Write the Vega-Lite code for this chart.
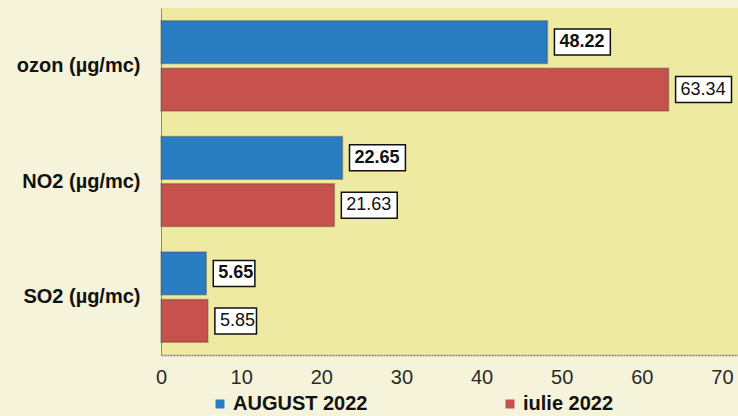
{
  "$schema": "https://vega.github.io/schema/vega-lite/v6.json",
  "autosize": {"type": "none"},
  "padding": {"left": 161, "top": 8, "right": 0, "bottom": 61},
  "width": 577,
  "height": 347,
  "background": "#f5f4da",
  "data": {
    "values": [
      {"pollutant": "ozon (µg/mc)", "period": "AUGUST 2022", "value": 48.22},
      {"pollutant": "ozon (µg/mc)", "period": "iulie 2022", "value": 63.34},
      {"pollutant": "NO2 (µg/mc)", "period": "AUGUST 2022", "value": 22.65},
      {"pollutant": "NO2 (µg/mc)", "period": "iulie 2022", "value": 21.63},
      {"pollutant": "SO2 (µg/mc)", "period": "AUGUST 2022", "value": 5.65},
      {"pollutant": "SO2 (µg/mc)", "period": "iulie 2022", "value": 5.85}
    ]
  },
  "encoding": {
    "y": {
      "field": "pollutant",
      "type": "nominal",
      "sort": null,
      "title": null,
      "scale": {"paddingInner": 0.22, "paddingOuter": 0.11},
      "axis": {
        "ticks": false,
        "labelFont": "Liberation Sans",
        "labelFontSize": 20,
        "labelFontWeight": "bold",
        "labelColor": "#111111",
        "labelPadding": 21,
        "domainColor": "#8a8a7a",
        "domainWidth": 1
      }
    },
    "yOffset": {
      "field": "period",
      "type": "nominal",
      "scale": {"paddingInner": 0.1}
    },
    "x": {
      "field": "value",
      "type": "quantitative",
      "title": null,
      "scale": {"domain": [0, 72], "nice": false},
      "axis": {
        "values": [0, 10, 20, 30, 40, 50, 60, 70],
        "grid": false,
        "ticks": false,
        "labelFont": "Liberation Sans",
        "labelFontSize": 20,
        "labelColor": "#2a2a2a",
        "labelPadding": 12,
        "labelFlush": false,
        "domainColor": "#7a7a70",
        "domainDash": [2, 1],
        "domainWidth": 1.5
      }
    }
  },
  "layer": [
    {
      "mark": {"type": "bar", "strokeWidth": 1.5, "stroke": "#3a3a3a", "strokeOpacity": 0.35},
      "encoding": {
        "color": {
          "field": "period",
          "type": "nominal",
          "title": null,
          "scale": {"domain": ["AUGUST 2022", "iulie 2022"], "range": ["#2b7dc2", "#c7514c"]},
          "legend": {
            "orient": "none",
            "direction": "horizontal",
            "legendX": 49,
            "legendY": 386,
            "symbolType": "square",
            "symbolSize": 81,
            "symbolStrokeWidth": 0,
            "labelFont": "Liberation Sans",
            "labelFontSize": 20,
            "labelFontWeight": "bold",
            "labelColor": "#111111",
            "labelOffset": 3,
            "columnPadding": 132
          }
        }
      }
    },
    {
      "transform": [{"filter": "datum.value >= 10"}],
      "mark": {
        "type": "point",
        "shape": "M0,-1H4.3V1H0Z",
        "size": 676,
        "filled": true,
        "fill": "white",
        "stroke": "#111111",
        "strokeWidth": 1.5,
        "opacity": 1,
        "xOffset": 7
      }
    },
    {
      "transform": [{"filter": "datum.value < 10"}],
      "mark": {
        "type": "point",
        "shape": "M0,-1H3.2V1H0Z",
        "size": 676,
        "filled": true,
        "fill": "white",
        "stroke": "#111111",
        "strokeWidth": 1.5,
        "opacity": 1,
        "xOffset": 7
      }
    },
    {
      "transform": [{"filter": "datum.period == 'AUGUST 2022'"}],
      "mark": {
        "type": "text",
        "align": "left",
        "baseline": "middle",
        "xOffset": 12,
        "font": "Liberation Sans",
        "fontSize": 18,
        "fontWeight": "bold",
        "color": "#111111"
      },
      "encoding": {"text": {"field": "value", "type": "quantitative", "format": ".2f"}}
    },
    {
      "transform": [{"filter": "datum.period == 'iulie 2022'"}],
      "mark": {
        "type": "text",
        "align": "left",
        "baseline": "middle",
        "xOffset": 12,
        "font": "Liberation Sans",
        "fontSize": 18,
        "color": "#111111"
      },
      "encoding": {"text": {"field": "value", "type": "quantitative", "format": ".2f"}}
    }
  ],
  "config": {
    "view": {"fill": "#eeeaa2", "stroke": null}
  }
}
